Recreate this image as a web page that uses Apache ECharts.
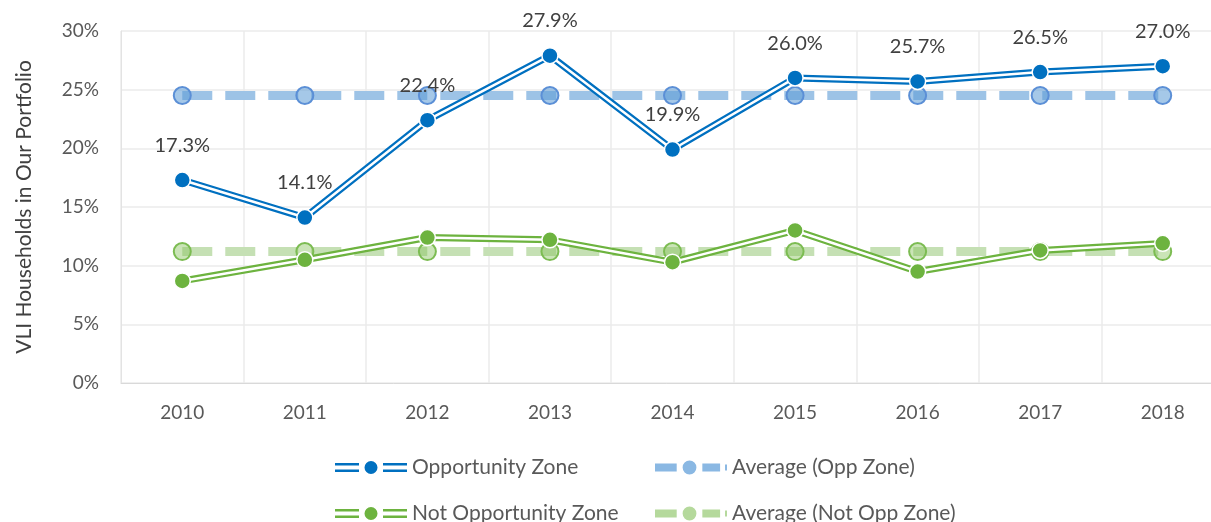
<!DOCTYPE html>
<html>
<head>
<meta charset="utf-8">
<title>VLI Households</title>
<script src="https://cdn.jsdelivr.net/npm/echarts@6/dist/echarts.min.js"></script>
<style>
  html, body { margin: 0; padding: 0; background: #fff; }
  #chart { width: 1211px; height: 522px; }
</style>
</head>
<body>
<div id="chart"></div>
<script>
  // data
  var years = ['2010', '2011', '2012', '2013', '2014', '2015', '2016', '2017', '2018'];
  var oppZone = [17.3, 14.1, 22.4, 27.9, 19.9, 26.0, 25.7, 26.5, 27.0];
  var notOppZone = [8.7, 10.5, 12.4, 12.2, 10.3, 13.0, 9.5, 11.3, 11.9];
  var avgOpp = [24.5, 24.5, 24.5, 24.5, 24.5, 24.5, 24.5, 24.5, 24.5];
  var avgNotOpp = [11.2, 11.2, 11.2, 11.2, 11.2, 11.2, 11.2, 11.2, 11.2];
  var yTicks = [0, 5, 10, 15, 20, 25, 30];

  var FONT = 'Lato, "Open Sans", sans-serif';
  var BLUE = '#0070c0';
  var GREEN = '#6db33f';

  // legend icons: double line with dot / thick dash with ring
  var doubleIcon = 'path://M0,2.5L24,2.5L24,5L0,5Z M0,9L24,9L24,11.5L0,11.5Z M48,2.5L72,2.5L72,5L48,5Z M48,9L72,9L72,11.5L48,11.5Z M29.5,7A6.5,6.5 0 1 1 42.5,7A6.5,6.5 0 1 1 29.5,7Z';
  var dashIcon = 'path://M0,3L22,3L22,11L0,11Z M28,7A7,7 0 1 1 42,7A7,7 0 1 1 28,7Z M48,3L66,3L66,11L48,11Z M71,4L73,4L73,10L71,10Z';

  var chart = echarts.init(document.getElementById('chart'));

  function doubleLine(name, data, color, withLabel) {
    return [
      {
        name: name + '_outer', type: 'line', data: data, silent: true,
        symbol: 'none', lineStyle: { color: color, width: 7 }, z: 3
      },
      {
        name: name + '_inner', type: 'line', data: data, silent: true,
        symbol: 'none', lineStyle: { color: '#ffffff', width: 2.5 }, z: 3
      },
      {
        name: name, type: 'line', data: data, z: 3,
        symbol: 'circle', symbolSize: 16,
        itemStyle: { color: color, borderColor: '#ffffff', borderWidth: 1.5 },
        lineStyle: { width: 0, opacity: 0 },
        label: {
          show: withLabel, position: 'top', distance: 16,
          fontFamily: FONT, fontSize: 20, color: '#404040',
          formatter: function (p) { return p.value.toFixed(1) + '%'; }
        }
      }
    ];
  }

  function avgLine(name, data, lineColor, fill, border) {
    return {
      name: name, type: 'line', data: data, z: 2,
      symbol: 'circle', symbolSize: 17,
      itemStyle: { color: fill, borderColor: border, borderWidth: 2 },
      lineStyle: { color: lineColor, width: 9, type: [30, 13] }
    };
  }

  var series = [
    avgLine('Average (Opp Zone)', avgOpp, '#9dc3e6', 'rgba(91,155,213,0.55)', '#5b8fd6'),
    avgLine('Average (Not Opp Zone)', avgNotOpp, '#c5e0b4', 'rgba(137,196,96,0.45)', '#7cbc52')
  ].concat(doubleLine('Not Opportunity Zone', notOppZone, GREEN, false))
   .concat(doubleLine('Opportunity Zone', oppZone, BLUE, true));

  var legendText = { fontFamily: FONT, fontSize: 21, color: '#595959' };

  chart.setOption({
    animation: false,
    grid: { left: 121, right: -13, top: 31, bottom: 139, outerBoundsMode: 'none' },
    legend: [
      {
        orient: 'vertical', left: 335, top: 457, height: 120, padding: 0, itemGap: 25,
        itemWidth: 72, itemHeight: 14, textStyle: legendText,
        data: [
          { name: 'Opportunity Zone', icon: doubleIcon, itemStyle: { color: BLUE, borderWidth: 0 } },
          { name: 'Not Opportunity Zone', icon: doubleIcon, itemStyle: { color: GREEN, borderWidth: 0 } }
        ]
      },
      {
        orient: 'vertical', left: 655, top: 457, height: 120, padding: 0, itemGap: 25,
        itemWidth: 72, itemHeight: 14, textStyle: legendText,
        data: [
          { name: 'Average (Opp Zone)', icon: dashIcon, itemStyle: { color: '#8ab8e3', borderWidth: 0 } },
          { name: 'Average (Not Opp Zone)', icon: dashIcon, itemStyle: { color: '#b5d99c', borderWidth: 0 } }
        ]
      }
    ],
    xAxis: {
      type: 'category', data: years, boundaryGap: true,
      axisLine: { lineStyle: { color: '#d9d9d9', width: 1 } },
      axisTick: { show: false },
      axisLabel: { fontFamily: FONT, fontSize: 19, color: '#595959', margin: 20 },
      splitLine: { show: true, lineStyle: { color: '#ebebeb', width: 1.5 } }
    },
    yAxis: {
      type: 'value', min: yTicks[0], max: yTicks[yTicks.length - 1], interval: 5,
      name: 'VLI Households in Our Portfolio', nameLocation: 'middle', nameGap: 86,
      nameTextStyle: { fontFamily: FONT, fontSize: 21, color: '#404040' },
      axisLine: { show: true, lineStyle: { color: '#e3e3e3' } },
      axisTick: { show: false },
      axisLabel: {
        fontFamily: FONT, fontSize: 19, color: '#595959', margin: 22,
        formatter: function (v) { return v + '%'; }
      },
      splitLine: { lineStyle: { color: '#ebebeb', width: 1.5 } }
    },
    series: series
  });
</script>
</body>
</html>
